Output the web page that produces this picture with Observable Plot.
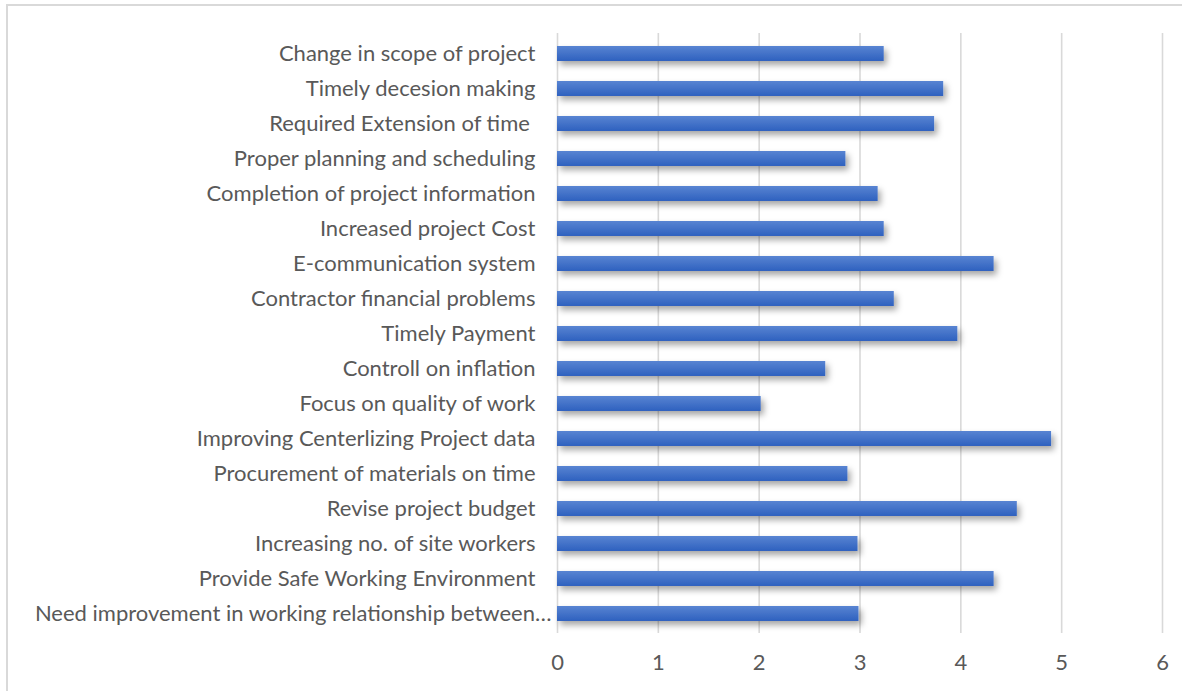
<!DOCTYPE html>
<html>
<head>
<meta charset="utf-8">
<script src="https://cdn.jsdelivr.net/npm/d3@7"></script>
<script src="https://cdn.jsdelivr.net/npm/@observablehq/plot@0.6"></script>
<style>
  html, body { margin: 0; padding: 0; background: #fff; }
  #wrap { position: relative; width: 1189px; height: 691px; overflow: hidden; }
  #border { position: absolute; left: 6px; top: 4px; width: 1174px; height: 720px;
            border-left: 2px solid #d9d9d9; border-top: 2px solid #d9d9d9; pointer-events: none; }
  #chart { position: absolute; left: 0; top: 0; }
</style>
</head>
<body>
<div id="wrap"><div id="border"></div><div id="chart"></div></div>
<script>
const categories = [
  "Change in scope of project",
  "Timely decesion making",
  "Required Extension of time ",
  "Proper planning and scheduling",
  "Completion of project information",
  "Increased project Cost",
  "E-communication system",
  "Contractor financial problems",
  "Timely Payment",
  "Controll on inflation",
  "Focus on quality of work",
  "Improving Centerlizing Project data",
  "Procurement of materials on time",
  "Revise project budget",
  "Increasing no. of site workers",
  "Provide Safe Working Environment",
  "Need improvement in working relationship between…"
];
const values = [3.24, 3.83, 3.74, 2.86, 3.18, 3.24, 4.33, 3.34, 3.97, 2.66, 2.02, 4.90, 2.88, 4.56, 2.98, 4.33, 2.99];
const xTicks = [0, 1, 2, 3, 4, 5, 6];

const data = categories.map((c, i) => ({category: c, value: values[i]}));

const chart = Plot.plot({
  width: 1189,
  height: 691,
  marginLeft: 557,
  marginRight: 27,
  marginTop: 33,
  marginBottom: 58,
  style: {fontFamily: "Lato, 'Open Sans', sans-serif", fontSize: "22px", color: "#595959", background: "transparent"},
  x: {domain: [0, 6], ticks: xTicks, label: null},
  y: {domain: categories, paddingInner: 0.575, paddingOuter: 0.2875, label: null},
  marks: [
    Plot.ruleX(xTicks, {stroke: "#d9d9d9", strokeWidth: 1.6, strokeOpacity: 1}),
    Plot.barX(data, {x: "value", y: "category", fill: "url(#barGrad)"}),
    Plot.axisX({ticks: xTicks, tickFormat: d => String(d), tickSize: 0, tickPadding: 21, label: null, fill: "#595959", fontSize: 22}),
    Plot.axisY({tickSize: 0, tickPadding: 22, label: null, fill: "#595959", fontSize: 22})
  ]
});

const svg = d3.select(chart);
const defs = svg.insert("defs", ":first-child");
const grad = defs.append("linearGradient").attr("id", "barGrad").attr("x1", 0).attr("y1", 0).attr("x2", 0).attr("y2", 1);
grad.append("stop").attr("offset", "0%").attr("stop-color", "#5884d2");
grad.append("stop").attr("offset", "100%").attr("stop-color", "#2f61bf");
const filt = defs.append("filter").attr("id", "barShadow").attr("x", "-5%").attr("y", "-50%").attr("width", "115%").attr("height", "250%");
filt.append("feDropShadow").attr("dx", 3).attr("dy", 4).attr("stdDeviation", 3).attr("flood-color", "#000").attr("flood-opacity", 0.35);
svg.selectAll("g[aria-label='bar'] rect").attr("fill", "url(#barGrad)").attr("filter", "url(#barShadow)");
// Excel lets the truncated label's ellipsis overhang toward the axis
svg.selectAll("g[aria-label='y-axis tick label'] text")
  .filter(function () { return this.textContent === categories[categories.length - 1]; })
  .attr("dx", 16);

document.getElementById("chart").appendChild(chart);
</script>
</body>
</html>
